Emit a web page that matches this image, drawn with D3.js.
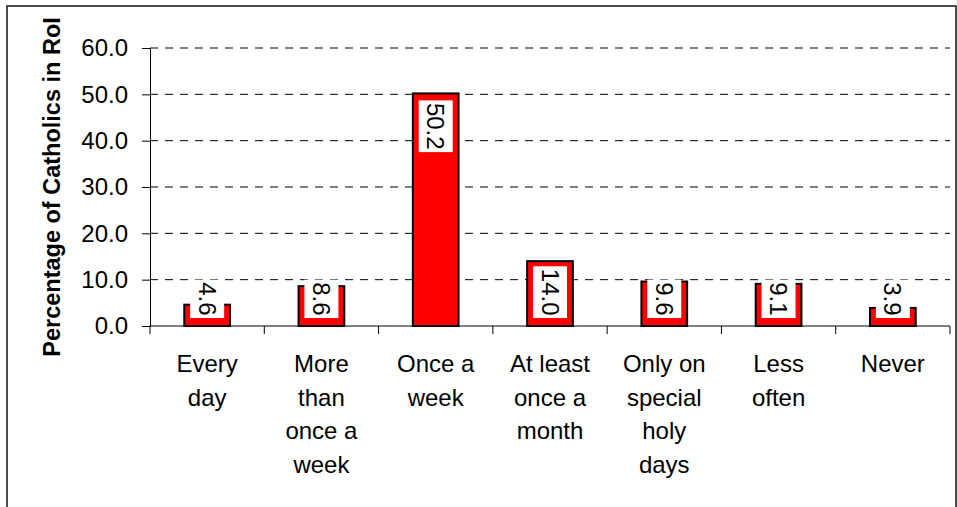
<!DOCTYPE html>
<html>
<head>
<meta charset="utf-8">
<script src="https://cdn.jsdelivr.net/npm/d3@7/dist/d3.min.js"></script>
<style>
html,body{margin:0;padding:0;background:#fff;}
svg{display:block;font-family:"Liberation Sans",Arial,sans-serif;}
</style>
</head>
<body>
<svg id="chart" width="957" height="507"></svg>
<script>
const categories = ["Every\nday", "More\nthan\nonce a\nweek", "Once a\nweek", "At least\nonce a\nmonth", "Only on\nspecial\nholy\ndays", "Less\noften", "Never"];
const values = [4.6, 8.6, 50.2, 14.0, 9.6, 9.1, 3.9];
const yTicks = [0, 10, 20, 30, 40, 50, 60];
const yTitle = "Percentage of Catholics in RoI";

const svg = d3.select("#chart");
const plotL = 150, plotR = 950, plotT = 48, plotB = 326;

// outer frame
svg.append("rect").attr("x", 7).attr("y", 6).attr("width", 949).attr("height", 530)
  .attr("fill", "none").attr("stroke", "#000").attr("stroke-width", 1.4);

const y = d3.scaleLinear().domain([0, 60]).range([plotB, plotT]);
const xCat = d3.scaleBand().domain(categories).range([plotL, plotR]).padding(0);
const xBar = d3.scaleBand().domain(categories).range([plotL, plotR]).paddingInner(0.6).paddingOuter(0.3);

// gridlines
svg.append("g").selectAll("line").data(yTicks.filter(d => d > 0)).join("line")
  .attr("x1", plotL).attr("x2", plotR)
  .attr("y1", d => y(d)).attr("y2", d => y(d))
  .attr("stroke", "#000").attr("stroke-width", 1).attr("stroke-dasharray", "8,7");

// y axis
const yAxis = svg.append("g").attr("transform", `translate(${plotL},0)`)
  .call(d3.axisLeft(y).tickValues(yTicks).tickFormat(d3.format(".1f")).tickSize(8).tickPadding(14).tickSizeOuter(0));
yAxis.select(".domain").attr("stroke", "#000");
yAxis.selectAll(".tick line").attr("stroke", "#000");
yAxis.selectAll(".tick text").attr("font-size", 24).attr("fill", "#000").attr("font-family", "Liberation Sans, Arial, sans-serif");

// x axis line and boundary ticks
svg.append("line").attr("x1", plotL).attr("x2", plotR).attr("y1", plotB).attr("y2", plotB)
  .attr("stroke", "#000").attr("stroke-width", 1);
const bounds = categories.map(c => xCat(c)).concat([xCat(categories[categories.length - 1]) + xCat.bandwidth()]);
svg.append("g").selectAll("line").data(bounds).join("line")
  .attr("x1", d => d).attr("x2", d => d).attr("y1", plotB).attr("y2", plotB + 8)
  .attr("stroke", "#000").attr("stroke-width", 1);

// bars
svg.append("g").selectAll("rect").data(values).join("rect")
  .attr("x", (d, i) => xBar(categories[i]))
  .attr("y", d => y(d))
  .attr("width", xBar.bandwidth())
  .attr("height", d => plotB - y(d))
  .attr("fill", "#ff0000").attr("stroke", "#000").attr("stroke-width", 2);

// value labels
const fmt = d3.format(".1f");
const lab = svg.append("g").selectAll("g").data(values).join("g");
lab.each(function(d, i) {
  const g = d3.select(this);
  const cx = xBar(categories[i]) + xBar.bandwidth() / 2;
  const txt = g.append("text").text(fmt(d)).attr("font-size", 24).attr("fill", "#000")
    .attr("text-anchor", "middle");
  const len = txt.node().getComputedTextLength();
  const h = len + 5;
  const bw = 34;
  const topY = Math.min(y(d) + 7, plotB - 8 - h);
  g.insert("rect", "text").attr("x", cx - bw / 2).attr("y", topY).attr("width", bw).attr("height", h)
    .attr("fill", "#fff");
  txt.attr("transform", `translate(${cx},${topY + h / 2}) rotate(90)`).attr("dy", "0.35em");
});

// category labels
const cl = svg.append("g").selectAll("text").data(categories).join("text")
  .attr("text-anchor", "middle").attr("font-size", 24).attr("fill", "#000")
  .attr("x", d => xCat(d) + xCat.bandwidth() / 2).attr("y", 372);
cl.each(function(d) {
  const t = d3.select(this);
  const x = xCat(d) + xCat.bandwidth() / 2;
  d.split("\n").forEach((line, k) => {
    t.append("tspan").attr("x", x).attr("dy", k === 0 ? 0 : 33.6).text(line);
  });
});

// y title
svg.append("text").text(yTitle)
  .attr("transform", `translate(60,${(plotT + plotB) / 2}) rotate(-90)`)
  .attr("text-anchor", "middle").attr("font-size", 23.5).attr("font-weight", "bold").attr("fill", "#000");
</script>
</body>
</html>
